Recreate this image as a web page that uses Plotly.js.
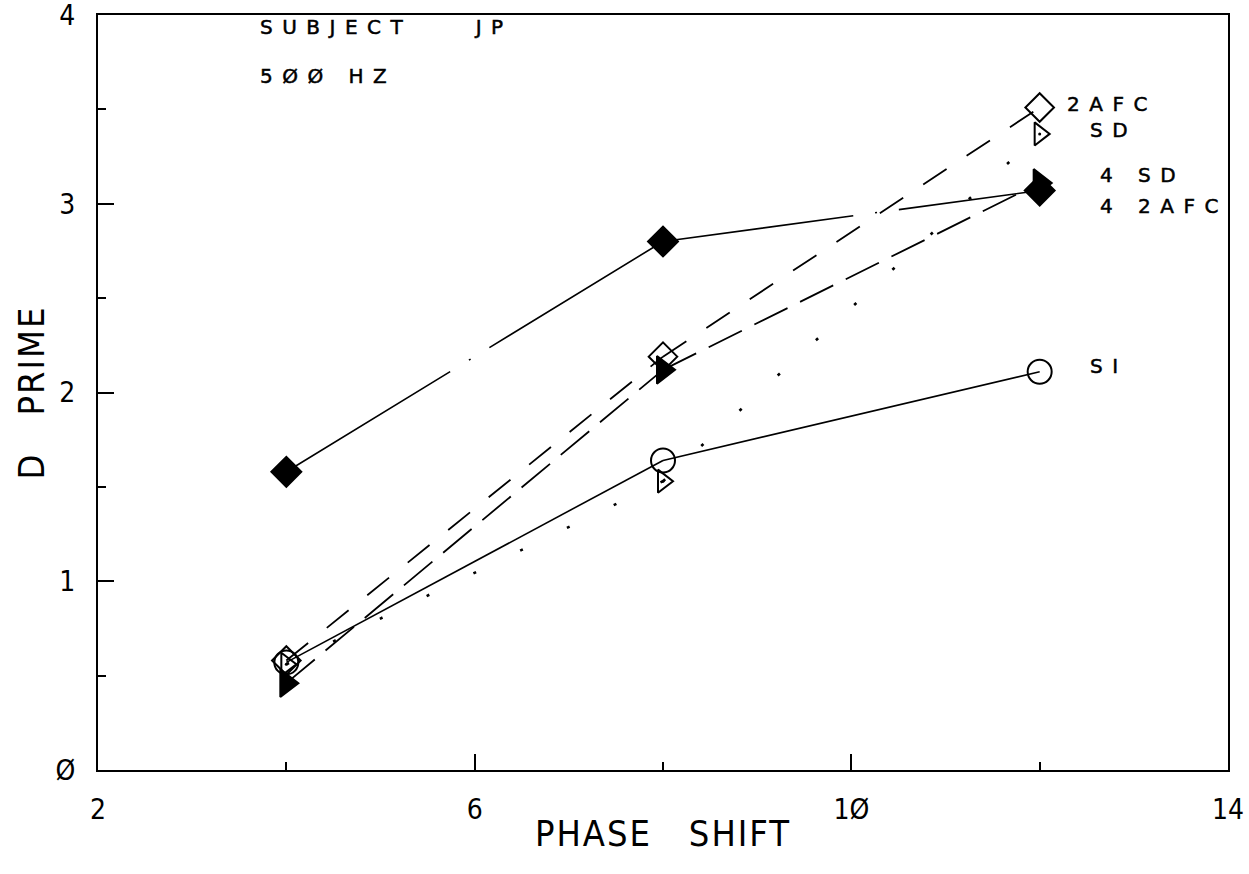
<!DOCTYPE html>
<html>
<head>
<meta charset="utf-8">
<script src="https://cdn.plot.ly/plotly-3.0.1.min.js"></script>
<style>
  html, body { margin: 0; padding: 0; background: #fff; }
  #chart { width: 1249px; height: 874px; }
  .annotation-text { letter-spacing: 9.5px; white-space: pre; stroke: #000; stroke-width: 0.5px; }
  .xtitle, .ytitle { letter-spacing: 2px; white-space: pre; }
  .xtitle { transform: translateY(-4px); }
</style>
</head>
<body>
<div id="chart"></div>
<script>
// ---- data ----
const phase = [4, 8, 12];
const afc2  = [0.58, 2.19, 3.51];   // open diamond, "2AFC"
const sd    = [0.56, 1.53, 3.37];   // open triangle, "SD"
const sd4   = [0.46, 2.12, 3.11];   // filled triangle, "4 SD"
const afc4  = [1.58, 2.80, 3.07];   // filled diamond, "4 2AFC"
const si    = [0.57, 1.64, 2.11];   // open circle, "SI"

const seriesNames = ["2AFC", "SD", "4 SD", "4 2AFC", "SI"];
const xTickVals = [2, 6, 10, 14];
const xTickText = ["2", "6", "1Ø", "14"];
const yTickVals = [0, 1, 2, 3, 4];
const yTickText = ["Ø", "1", "2", "3", "4"];

const INK = "#000";
const tickFont = "Liberation Sans Narrow, DejaVu Sans Condensed, Arial Narrow, sans-serif";
const plotFont = "DejaVu Sans, sans-serif";

const series = [
  {name: seriesNames[0], y: afc2, symbol: "diamond-open",        size: 22, dash: "28px,24px",                     lw: 1.8},
  {name: seriesNames[1], y: sd,   symbol: "triangle-right-open", size: 20, dash: "3px,49px",                      lw: 2.6},
  {name: seriesNames[2], y: sd4,  symbol: "triangle-right",      size: 24, dash: "37px,14px",                     lw: 1.8},
  {name: seriesNames[3], y: afc4, symbol: "diamond",             size: 23, dash: "192px,22px,2px,22px,800px,1px", lw: 1.6},
  {name: seriesNames[4], y: si,   symbol: "circle-open",         size: 24, dash: "solid",                         lw: 1.6}
];

const traces = [];
// line segments (plotter restarts its dash pattern at every data point)
series.forEach(s => {
  for (let i = 0; i < phase.length - 1; i++) {
    traces.push({
      x: phase.slice(i, i + 2), y: s.y.slice(i, i + 2),
      type: "scatter", mode: "lines", showlegend: false, hoverinfo: "skip",
      line: {color: INK, width: s.lw, dash: s.dash}
    });
  }
});
// markers
series.forEach(s => {
  traces.push({
    x: phase, y: s.y, name: s.name, type: "scatter", mode: "markers", showlegend: false,
    marker: {symbol: s.symbol, size: s.size, color: INK, line: {color: INK, width: 2}}
  });
});
// centre dot of the open triangles
traces.push({
  x: phase, y: sd, type: "scatter", mode: "markers", showlegend: false, hoverinfo: "skip",
  marker: {symbol: "circle", size: 3, color: INK}
});

const labelFont = {family: plotFont, size: 20, color: INK};
const lab = (text, y, shift) => ({
  text: text, xref: "x", yref: "y", x: phase[phase.length - 1], y: y,
  xanchor: "left", yanchor: "middle", xshift: shift, showarrow: false, font: labelFont
});

const layout = {
  width: 1249, height: 874,
  margin: {l: 98, r: 21, t: 15, b: 104, pad: 0},
  paper_bgcolor: "#fff", plot_bgcolor: "#fff",
  showlegend: false,
  xaxis: {
    range: [2, 14], tickvals: xTickVals, ticktext: xTickText,
    ticks: "inside", ticklen: 16, tickwidth: 2, tickcolor: INK,
    minor: {dtick: 2, tick0: 2, ticks: "inside", ticklen: 8, tickwidth: 2, tickcolor: INK, showgrid: false},
    showline: true, linecolor: INK, linewidth: 2, mirror: true,
    showgrid: false, zeroline: false,
    ticklabelstandoff: 13, ticklabeloverflow: "allow",
    tickfont: {family: tickFont, size: 28, color: INK},
    title: {text: "PHASE   SHIFT", font: {family: tickFont, size: 36, color: INK}, standoff: 0}
  },
  yaxis: {
    range: [0, 4], tickvals: yTickVals, ticktext: yTickText,
    ticks: "inside", ticklen: 16, tickwidth: 2, tickcolor: INK,
    minor: {dtick: 0.5, tick0: 0, ticks: "inside", ticklen: 8, tickwidth: 2, tickcolor: INK, showgrid: false},
    showline: true, linecolor: INK, linewidth: 2, mirror: true,
    showgrid: false, zeroline: false,
    ticklabelstandoff: 15, ticklabeloverflow: "allow",
    tickfont: {family: tickFont, size: 28, color: INK},
    title: {text: "D   PRIME", font: {family: tickFont, size: 36, color: INK}, standoff: 0}
  },
  annotations: [
    {text: "SUBJECT    JP", xref: "paper", yref: "paper", x: 0.1416, y: 0.984, xanchor: "left", yanchor: "middle", showarrow: false, font: labelFont},
    {text: "5ØØ HZ", xref: "paper", yref: "paper", x: 0.1416, y: 0.919, xanchor: "left", yanchor: "middle", showarrow: false, font: labelFont},
    lab(seriesNames[0], 3.53, 25),
    lab(seriesNames[1], 3.39, 48),
    lab(seriesNames[2], 3.15, 58),
    lab(seriesNames[3], 2.99, 58),
    lab(seriesNames[4], 2.14, 48)
  ]
};

Plotly.newPlot("chart", traces, layout, {displayModeBar: false, staticPlot: true});
</script>
</body>
</html>
